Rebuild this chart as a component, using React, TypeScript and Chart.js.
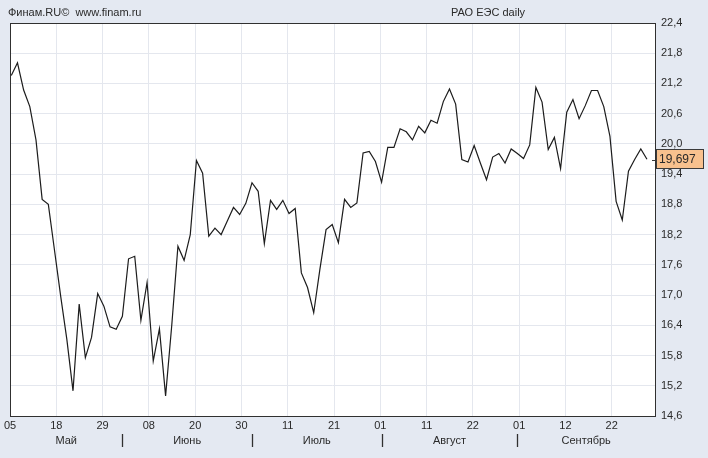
import React, { useEffect, useRef } from "react";
import { Chart, registerables } from "chart.js";

Chart.register(...registerables);

// Daily close, RAO UES (index = trading day from 05 May)
const closePrices: number[] = [
  21.36, 21.61, 21.07, 20.74, 20.08, 18.9, 18.8, 17.89, 16.98, 16.12,
  15.1, 16.82, 15.76, 16.16, 17.03, 16.78, 16.37, 16.32, 16.58, 17.72,
  17.77, 16.5, 17.25, 15.69, 16.33, 15.0, 16.4, 17.97, 17.69, 18.2,
  19.67, 19.42, 18.17, 18.33, 18.2, 18.47, 18.74, 18.6, 18.82, 19.23,
  19.06, 18.02, 18.88, 18.7, 18.88, 18.62, 18.72, 17.44, 17.15, 16.65,
  17.51, 18.3, 18.4, 18.04, 18.9, 18.74, 18.83, 19.82, 19.85, 19.65,
  19.24, 19.93, 19.93, 20.3, 20.24, 20.08, 20.35, 20.22, 20.47, 20.41,
  20.84, 21.09, 20.79, 19.69, 19.64, 19.97, 19.62, 19.29, 19.74, 19.81,
  19.62, 19.9, 19.81, 19.71, 19.98, 21.12, 20.83, 19.89, 20.13, 19.51,
  20.63, 20.88, 20.5, 20.76, 21.06, 21.06, 20.74, 20.15, 18.86, 18.49,
  19.46, 19.69, 19.9, 19.697,
];

const xTickLabels: string[] = ["05", "18", "29", "08", "20", "30", "11", "21", "01", "11", "22", "01", "12", "22"];
const yTickValues: number[] = [14.6, 15.2, 15.8, 16.4, 17.0, 17.6, 18.2, 18.8, 19.4, 20.0, 20.6, 21.2, 21.8, 22.4];
const monthLabels: string[] = ["Май", "Июнь", "Июль", "Август", "Сентябрь"];
const monthBreaks: number[] = [18, 39, 60, 82];

const titleLeft = "Финам.RU©  www.finam.ru";
const titleCenter = "РАО ЕЭС daily";

const FONT = "'Liberation Sans', Arial, sans-serif";
const TEXT = "#2a2a2a";
const BG = "#e4e9f2";

const X_MIN = -0.21;
const X_MAX = 104.3;
const X_STEP = 7.5;

export default function App() {
  const ref = useRef<HTMLCanvasElement | null>(null);

  useEffect(() => {
    document.body.style.margin = "0";
    const canvas = ref.current;
    if (!canvas) return;

    const decor = {
      id: "decor",
      beforeDraw(chart: any) {
        const { ctx, chartArea: a } = chart;
        ctx.save();
        ctx.fillStyle = BG;
        ctx.fillRect(0, 0, chart.width, chart.height);
        ctx.fillStyle = "#ffffff";
        ctx.fillRect(a.left, a.top, a.right - a.left, a.bottom - a.top);
        ctx.restore();
      },
      afterDraw(chart: any) {
        const { ctx, chartArea: a } = chart;
        const xs = chart.scales.x;
        const ys = chart.scales.y;
        ctx.save();
        // frame
        ctx.strokeStyle = "#303030";
        ctx.lineWidth = 1;
        ctx.strokeRect(Math.round(a.left) + 0.5, Math.round(a.top) + 0.5, Math.round(a.right - a.left), Math.round(a.bottom - a.top));

        // header
        ctx.fillStyle = TEXT;
        ctx.font = `11px ${FONT}`;
        ctx.textBaseline = "middle";
        ctx.textAlign = "left";
        ctx.fillText(titleLeft, 8, 13);
        ctx.textAlign = "center";
        ctx.fillText(titleCenter, 488, 13);

        // month row
        const bounds = [a.left, ...monthBreaks.map((v) => xs.getPixelForValue(v)), a.right];
        ctx.strokeStyle = "#303030";
        ctx.lineWidth = 1.3;
        monthBreaks.forEach((v) => {
          const px = Math.round(xs.getPixelForValue(v)) + 0.5;
          ctx.beginPath();
          ctx.moveTo(px, 434);
          ctx.lineTo(px, 447);
          ctx.stroke();
        });
        ctx.textAlign = "center";
        ctx.font = `11px ${FONT}`;
        monthLabels.forEach((m, i) => {
          ctx.fillText(m, (bounds[i] + bounds[i + 1]) / 2, 441);
        });

        // last price marker
        const last = closePrices[closePrices.length - 1];
        const py = ys.getPixelForValue(last);
        const bx = a.right + 1;
        ctx.fillStyle = "#f8c18e";
        ctx.fillRect(bx, Math.round(py) - 9.5, 47, 19);
        ctx.strokeStyle = "#3a3a3a";
        ctx.lineWidth = 1;
        ctx.strokeRect(bx + 0.5, Math.round(py) - 9.5, 47, 19);
        ctx.beginPath();
        ctx.moveTo(a.right - 3, Math.round(py) + 1.5);
        ctx.lineTo(a.right, Math.round(py) + 1.5);
        ctx.stroke();
        ctx.fillStyle = TEXT;
        ctx.textAlign = "left";
        ctx.font = `12px ${FONT}`;
        ctx.fillText(last.toFixed(3).replace(".", ","), bx + 3, Math.round(py) + 0.5);
        ctx.restore();
      },
    };

    const chart = new Chart(canvas, {
      type: "line",
      data: {
        datasets: [
          {
            data: closePrices.map((y, i) => ({ x: i, y })),
            borderColor: "#1c1c1c",
            borderWidth: 1.2,
            pointRadius: 0,
            tension: 0,
            fill: false,
          },
        ],
      },
      options: {
        animation: false,
        responsive: false,
        devicePixelRatio: 1,
        layout: { padding: { left: 10, top: 23, right: 0, bottom: 0 } },
        plugins: { legend: { display: false }, tooltip: { enabled: false }, title: { display: false } },
        scales: {
          x: {
            type: "linear",
            min: X_MIN,
            max: X_MAX,
            afterBuildTicks: (scale: any) => {
              scale.ticks = xTickLabels.map((_, k) => ({ value: X_MIN + k * X_STEP }));
            },
            afterFit: (scale: any) => {
              scale.height = 42;
            },
            grid: { color: "#e4e7ee", drawTicks: false, lineWidth: 1 },
            border: { display: false },
            ticks: {
              autoSkip: false,
              maxRotation: 0,
              padding: 3,
              color: TEXT,
              font: { family: FONT, size: 11 },
              callback: (_v: any, i: number) => xTickLabels[i],
            },
          },
          y: {
            type: "linear",
            position: "right",
            min: 14.6,
            max: 22.4,
            afterBuildTicks: (scale: any) => {
              scale.ticks = yTickValues.map((v) => ({ value: v }));
            },
            afterFit: (scale: any) => {
              scale.width = 53;
            },
            grid: { color: "#e4e7ee", drawTicks: false, lineWidth: 1 },
            border: { display: false },
            ticks: {
              autoSkip: false,
              padding: 6,
              color: TEXT,
              font: { family: FONT, size: 11 },
              callback: (v: any) => Number(v).toFixed(1).replace(".", ","),
            },
          },
        },
      },
      plugins: [decor],
    } as any);

    return () => chart.destroy();
  }, []);

  return (
    <div style={{ width: 708, height: 458, background: BG }}>
      <canvas ref={ref} width={708} height={458} style={{ display: "block", width: 708, height: 458 }} />
    </div>
  );
}
